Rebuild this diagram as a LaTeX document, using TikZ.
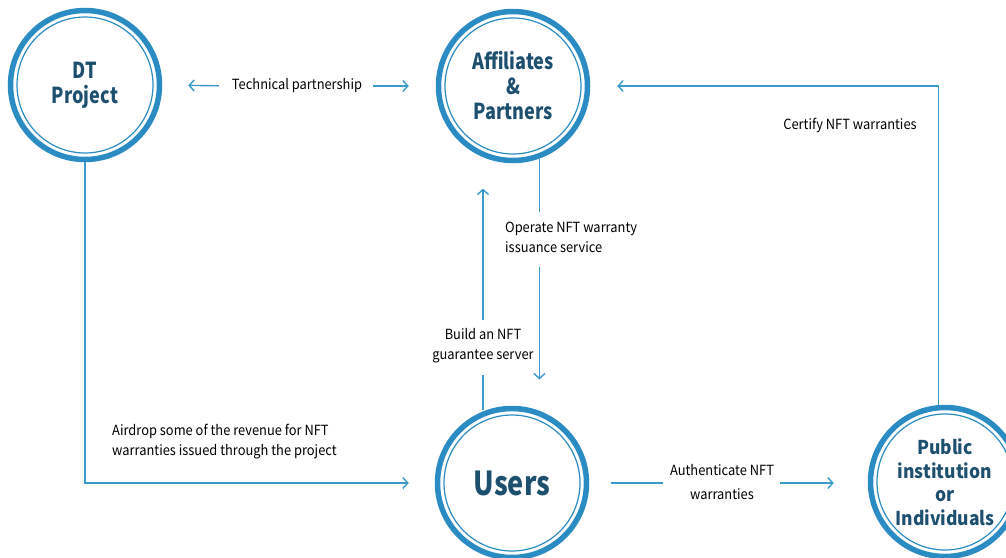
\documentclass[tikz,border=0pt]{standalone}
\usepackage{fontspec}
\setmainfont{Noto Sans CJK KR}[FakeStretch=0.92]
\newfontfamily\partyfont{Noto Sans CJK KR}[FakeStretch=0.82]
\usetikzlibrary{arrows.meta}

\definecolor{ringblue}{HTML}{2A8CC3}
\definecolor{lineblue}{HTML}{3A9BCB}
\definecolor{namedark}{HTML}{1D4F6E}

\tikzset{
  party/.style={circle, draw=ringblue, line width=5.5pt, minimum size=149pt, inner sep=0pt,
    align=center, text=namedark, font=\partyfont\bfseries\fontsize{22}{25}\selectfont},
  link/.style={draw=lineblue, line width=1.4pt},
  flow/.style={link, -{Straight Barb[length=5pt,width=11pt]}},
  tag/.style={align=center, inner sep=0pt, text=black, font=\fontsize{14}{20}\selectfont}
}

\begin{document}
\begin{tikzpicture}[x=1pt,y=-1pt]
\useasboundingbox (0,0) rectangle (1006,557);

% the four parties
\node[party] (dt) at (85,85) {DT\\Project};
\node[party] (aff) at (513,86) {Affiliates\\\&\\Partners};
\node[party, font=\partyfont\bfseries\fontsize{33}{36}\selectfont] (users) at (512,483) {Users};
\node[party, font=\bfseries\fontsize{19}{23.5}\selectfont] (pub) at (945,482) {Public\\institution\\or\\Individuals};
\foreach \n in {dt,aff,users,pub}
  \draw[ringblue, line width=1.2pt] (\n.center) circle (68pt);

% labels
\node[tag] (tech) at (297,86) {Technical partnership};
\node[tag, anchor=west, align=left] (operate) at (505,237) {Operate NFT warranty\\issuance service};
\node[tag] (build) at (483,346) {Build an NFT\\guarantee server};
\node[tag, anchor=west, align=left] (airdrop) at (112,442) {Airdrop some of the revenue for NFT\\warranties issued through the project};
\node[tag, font=\fontsize{14}{24}\selectfont] (auth) at (722,482) {Authenticate NFT\\warranties};
\node[tag] (certify) at (850,125) {Certify NFT warranties};

% connectors
\draw[flow, shorten <=13pt, shorten >=26pt] (tech.west) -- (dt.east);
\draw[flow, shorten <=11pt, shorten >=27pt] (tech.east) -- (aff.west);
\draw[link, shorten >=9pt] (aff.290) -- (aff.290 |- operate.north);
\draw[flow, shorten <=14pt, shorten >=31pt] (aff.290 |- operate.south) -- (aff.290 |- users.70);
\draw[link, shorten <=11pt] (build.south) -- (build.south |- users.110);
\draw[flow, shorten <=8pt, shorten >=30pt] (build.north) -- (build.north |- aff.250);
\draw[flow, shorten >=26pt] (dt.south) |- (users.west);
\draw[link, shorten <=22pt, shorten >=7pt] (users.east) -- (auth.west |- users.east);
\draw[flow, shorten <=6pt, shorten >=34pt] (auth.east |- users.east) -- (users.east -| pub.west);
\draw[flow, shorten >=27pt] (pub.95) |- (aff.east);
\end{tikzpicture}
\end{document}
